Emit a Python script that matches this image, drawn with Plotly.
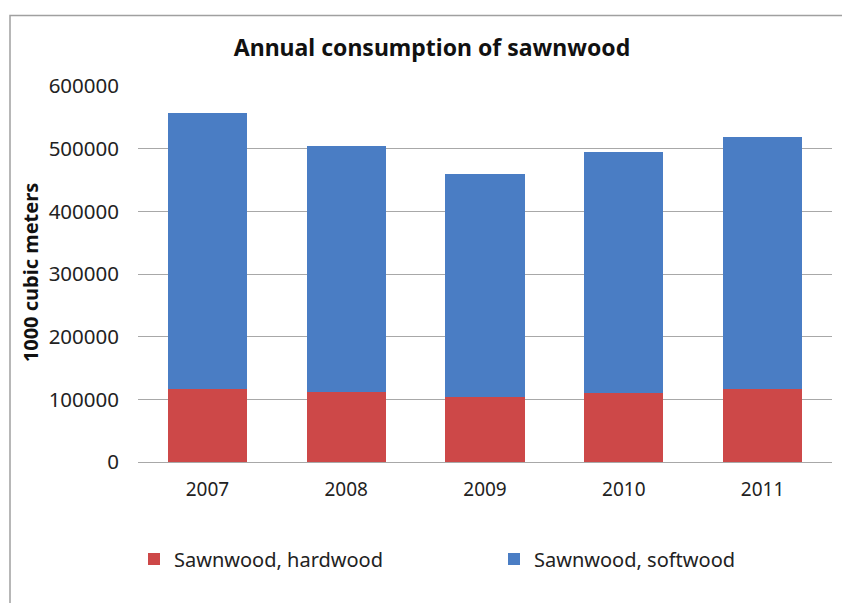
import plotly.graph_objects as go

years = ["2007", "2008", "2009", "2010", "2011"]
hardwood = [116000, 112000, 104000, 109500, 116000]
softwood = [441000, 392000, 356000, 384500, 402000]
y_ticks = [0, 100000, 200000, 300000, 400000, 500000, 600000]

FONT = "Noto Sans"
RED = "#CD4848"
BLUE = "#4A7DC4"

fig = go.Figure()
fig.add_trace(go.Bar(x=years, y=hardwood, name="Sawnwood, hardwood", legend="legend",
                     marker=dict(color=RED, line=dict(width=0))))
fig.add_trace(go.Bar(x=years, y=softwood, name="Sawnwood, softwood", legend="legend2",
                     marker=dict(color=BLUE, line=dict(width=0))))

L, R, T, B = 138, 10, 85.5, 141
W, H = 842, 603
pw = W - L - R
ph = H - T - B

leg_font = dict(size=20, family=FONT, color="#222222")

fig.update_layout(
    width=W, height=H,
    barmode="stack",
    bargap=0.43,
    paper_bgcolor="white",
    plot_bgcolor="white",
    margin=dict(l=L, r=R, t=T, b=B, pad=0),
    font=dict(family=FONT, color="#222222"),
    title=dict(text="<b>Annual consumption of sawnwood</b>", x=432 / W, xanchor="center",
               y=1 - 48 / H, yanchor="middle", yref="container",
               font=dict(size=23, family=FONT, color="#111111")),
    xaxis=dict(showgrid=False, showline=False, ticks="", tickfont=dict(size=19, family=FONT, color="#222222"),
               ticklabelstandoff=14),
    yaxis=dict(range=[0, 600000], tickvals=y_ticks, ticktext=[str(v) for v in y_ticks],
               showgrid=True, gridcolor="#a8a8a8", gridwidth=1, zeroline=True, zerolinecolor="#a8a8a8",
               zerolinewidth=1, showline=False, ticks="", tickfont=dict(size=20.5, family=FONT, color="#222222"),
               ticklabelstandoff=18),
    legend=dict(orientation="h", xref="container", yref="container", x=134 / W, xanchor="left",
                y=1 - 559 / H, yanchor="middle", font=leg_font),
    legend2=dict(orientation="h", xref="container", yref="container", x=494 / W, xanchor="left",
                 y=1 - 559 / H, yanchor="middle", font=leg_font),
    showlegend=True,
)

fig.add_annotation(text="<b>1000 cubic meters</b>", textangle=-90, xref="paper", yref="paper",
                   x=(30 - L) / pw, y=(462 - 273) / ph, xanchor="center", yanchor="middle",
                   showarrow=False, font=dict(size=20, family=FONT, color="#111111"))

fig.add_shape(type="rect", xref="paper", yref="paper",
              x0=(10 - L) / pw, x1=1.5, y0=-0.8, y1=(462 - 15) / ph,
              line=dict(color="#a0a0a0", width=1.5), fillcolor="rgba(0,0,0,0)", layer="below")

fig.write_html("out.html")
